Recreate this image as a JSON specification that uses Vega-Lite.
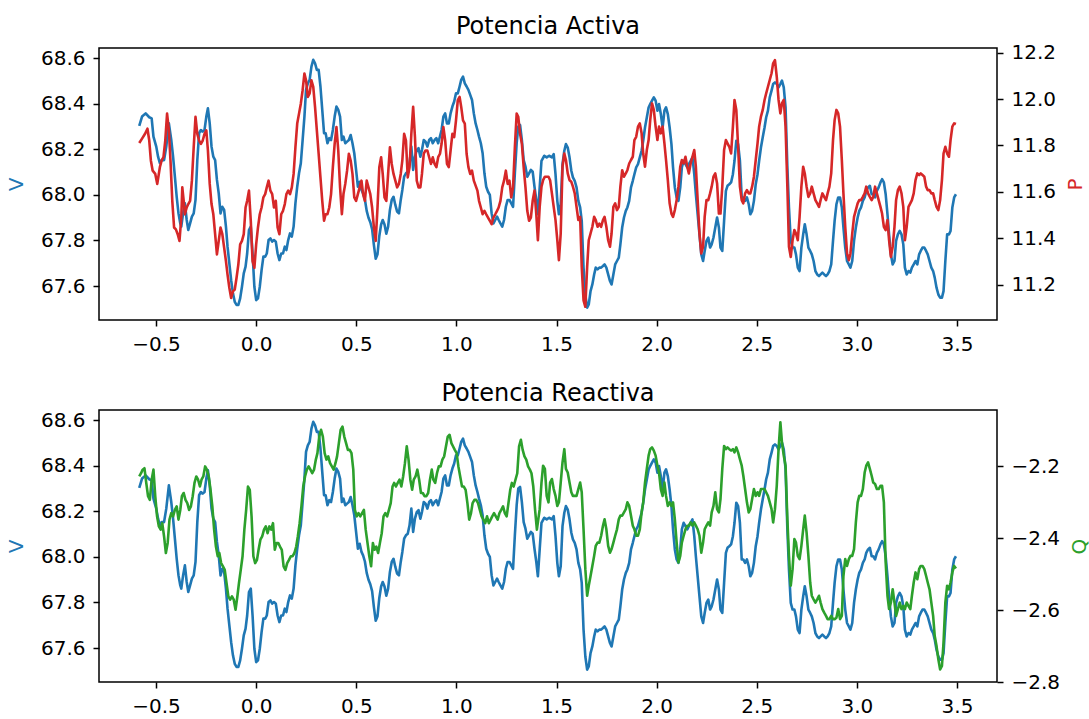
{
"$schema": "https://vega.github.io/schema/vega-lite/v6.json",
"padding": {"left": 5, "top": 13, "right": 0, "bottom": 0},
"background": "white",
"config": {
  "view": {"stroke": "black", "strokeWidth": 1.5},
  "axis": {"grid": false, "domain": false, "tickColor": "black", "tickWidth": 1.5, "tickSize": 6, "labelFont": "DejaVu Sans", "labelFontSize": 20, "labelColor": "black", "labelPadding": 8, "titleFont": "DejaVu Sans", "titleFontSize": 20, "titleFontWeight": "normal"},
  "title": {"font": "DejaVu Sans", "fontSize": 24, "fontWeight": "normal", "color": "black", "offset": 4}
},
"datasets": {
"v": [
{"x":-0.584,"v":68.303},{"x":-0.570,"v":68.344},{"x":-0.552,"v":68.358},{"x":-0.534,"v":68.341},{"x":-0.522,"v":68.336},{"x":-0.513,"v":68.256},{"x":-0.499,"v":68.212},{"x":-0.490,"v":68.168},{"x":-0.481,"v":68.139},{"x":-0.472,"v":68.153},{"x":-0.460,"v":68.153},{"x":-0.449,"v":68.212},{"x":-0.436,"v":68.314},{"x":-0.424,"v":68.241},{"x":-0.415,"v":68.168},{"x":-0.406,"v":68.080},{"x":-0.397,"v":67.992},{"x":-0.388,"v":67.919},{"x":-0.379,"v":67.875},{"x":-0.374,"v":67.861},{"x":-0.365,"v":67.919},{"x":-0.356,"v":67.963},{"x":-0.347,"v":67.890},{"x":-0.339,"v":67.846},{"x":-0.330,"v":67.875},{"x":-0.321,"v":67.905},{"x":-0.312,"v":67.919},{"x":-0.303,"v":67.978},{"x":-0.294,"v":68.153},{"x":-0.285,"v":68.271},{"x":-0.276,"v":68.285},{"x":-0.267,"v":68.278},{"x":-0.258,"v":68.285},{"x":-0.249,"v":68.344},{"x":-0.241,"v":68.380},{"x":-0.232,"v":68.314},{"x":-0.223,"v":68.212},{"x":-0.214,"v":68.168},{"x":-0.205,"v":68.153},{"x":-0.196,"v":68.066},{"x":-0.187,"v":68.007},{"x":-0.178,"v":67.919},{"x":-0.169,"v":67.948},{"x":-0.160,"v":67.934},{"x":-0.151,"v":67.861},{"x":-0.143,"v":67.773},{"x":-0.134,"v":67.700},{"x":-0.125,"v":67.626},{"x":-0.116,"v":67.568},{"x":-0.107,"v":67.531},{"x":-0.098,"v":67.517},{"x":-0.089,"v":67.517},{"x":-0.080,"v":67.546},{"x":-0.071,"v":67.597},{"x":-0.062,"v":67.656},{"x":-0.053,"v":67.685},{"x":-0.045,"v":67.743},{"x":-0.036,"v":67.846},{"x":-0.027,"v":67.861},{"x":-0.018,"v":67.743},{"x":-0.009,"v":67.597},{"x":0.000,"v":67.538},{"x":0.009,"v":67.546},{"x":0.018,"v":67.597},{"x":0.027,"v":67.670},{"x":0.036,"v":67.729},{"x":0.045,"v":67.729},{"x":0.053,"v":67.743},{"x":0.062,"v":67.802},{"x":0.071,"v":67.809},{"x":0.080,"v":67.795},{"x":0.089,"v":67.802},{"x":0.098,"v":67.795},{"x":0.107,"v":67.743},{"x":0.116,"v":67.714},{"x":0.125,"v":67.743},{"x":0.134,"v":67.743},{"x":0.143,"v":67.773},{"x":0.151,"v":67.758},{"x":0.160,"v":67.802},{"x":0.169,"v":67.831},{"x":0.178,"v":67.817},{"x":0.187,"v":67.861},{"x":0.196,"v":67.963},{"x":0.205,"v":68.036},{"x":0.214,"v":68.095},{"x":0.223,"v":68.139},{"x":0.232,"v":68.241},{"x":0.241,"v":68.344},{"x":0.249,"v":68.461},{"x":0.258,"v":68.490},{"x":0.267,"v":68.505},{"x":0.276,"v":68.563},{"x":0.285,"v":68.593},{"x":0.294,"v":68.578},{"x":0.303,"v":68.549},{"x":0.312,"v":68.549},{"x":0.321,"v":68.476},{"x":0.330,"v":68.373},{"x":0.339,"v":68.271},{"x":0.347,"v":68.271},{"x":0.356,"v":68.227},{"x":0.365,"v":68.249},{"x":0.374,"v":68.241},{"x":0.383,"v":68.285},{"x":0.392,"v":68.344},{"x":0.401,"v":68.388},{"x":0.410,"v":68.373},{"x":0.419,"v":68.344},{"x":0.428,"v":68.241},{"x":0.436,"v":68.256},{"x":0.445,"v":68.227},{"x":0.454,"v":68.234},{"x":0.463,"v":68.241},{"x":0.472,"v":68.263},{"x":0.481,"v":68.227},{"x":0.490,"v":68.183},{"x":0.499,"v":68.110},{"x":0.508,"v":68.036},{"x":0.517,"v":68.058},{"x":0.526,"v":68.022},{"x":0.534,"v":68.007},{"x":0.543,"v":67.980},{"x":0.552,"v":67.930},{"x":0.561,"v":67.900},{"x":0.570,"v":67.880},{"x":0.579,"v":67.850},{"x":0.588,"v":67.780},{"x":0.597,"v":67.720},{"x":0.606,"v":67.740},{"x":0.615,"v":67.820},{"x":0.624,"v":67.870},{"x":0.632,"v":67.890},{"x":0.641,"v":67.870},{"x":0.650,"v":67.830},{"x":0.659,"v":67.861},{"x":0.668,"v":67.934},{"x":0.677,"v":67.978},{"x":0.686,"v":67.992},{"x":0.695,"v":67.956},{"x":0.704,"v":67.927},{"x":0.713,"v":67.919},{"x":0.722,"v":67.978},{"x":0.730,"v":68.022},{"x":0.739,"v":68.080},{"x":0.748,"v":68.095},{"x":0.757,"v":68.102},{"x":0.766,"v":68.139},{"x":0.775,"v":68.212},{"x":0.784,"v":68.110},{"x":0.793,"v":68.168},{"x":0.802,"v":68.197},{"x":0.811,"v":68.205},{"x":0.820,"v":68.168},{"x":0.828,"v":68.197},{"x":0.837,"v":68.241},{"x":0.846,"v":68.234},{"x":0.855,"v":68.212},{"x":0.864,"v":68.241},{"x":0.873,"v":68.249},{"x":0.882,"v":68.227},{"x":0.891,"v":68.241},{"x":0.900,"v":68.249},{"x":0.909,"v":68.227},{"x":0.926,"v":68.285},{"x":0.935,"v":68.344},{"x":0.944,"v":68.358},{"x":0.953,"v":68.314},{"x":0.962,"v":68.314},{"x":0.971,"v":68.358},{"x":0.980,"v":68.388},{"x":0.989,"v":68.410},{"x":0.998,"v":68.446},{"x":1.007,"v":68.446},{"x":1.016,"v":68.476},{"x":1.024,"v":68.505},{"x":1.033,"v":68.519},{"x":1.042,"v":68.490},{"x":1.051,"v":68.476},{"x":1.060,"v":68.461},{"x":1.069,"v":68.439},{"x":1.078,"v":68.417},{"x":1.087,"v":68.358},{"x":1.096,"v":68.314},{"x":1.105,"v":68.285},{"x":1.113,"v":68.256},{"x":1.122,"v":68.227},{"x":1.131,"v":68.183},{"x":1.140,"v":68.095},{"x":1.149,"v":68.036},{"x":1.158,"v":68.014},{"x":1.167,"v":68.000},{"x":1.176,"v":67.919},{"x":1.185,"v":67.875},{"x":1.194,"v":67.890},{"x":1.203,"v":67.905},{"x":1.211,"v":67.890},{"x":1.220,"v":67.875},{"x":1.229,"v":67.861},{"x":1.238,"v":67.890},{"x":1.247,"v":67.948},{"x":1.256,"v":67.978},{"x":1.265,"v":67.978},{"x":1.274,"v":67.963},{"x":1.283,"v":67.948},{"x":1.292,"v":68.095},{"x":1.301,"v":68.227},{"x":1.309,"v":68.300},{"x":1.318,"v":68.307},{"x":1.327,"v":68.241},{"x":1.336,"v":68.153},{"x":1.345,"v":68.124},{"x":1.354,"v":68.080},{"x":1.363,"v":68.095},{"x":1.372,"v":68.110},{"x":1.381,"v":68.102},{"x":1.390,"v":68.036},{"x":1.399,"v":67.978},
{"x":1.407,"v":67.915},{"x":1.416,"v":68.033},{"x":1.425,"v":68.150},{"x":1.439,"v":68.172},{"x":1.451,"v":68.165},{"x":1.463,"v":68.172},{"x":1.477,"v":68.165},{"x":1.486,"v":68.179},{"x":1.495,"v":68.091},{"x":1.504,"v":67.974},{"x":1.512,"v":67.915},{"x":1.521,"v":67.959},{"x":1.530,"v":68.135},{"x":1.539,"v":68.194},{"x":1.547,"v":68.223},{"x":1.556,"v":68.208},{"x":1.565,"v":68.165},{"x":1.574,"v":68.106},{"x":1.582,"v":68.077},{"x":1.591,"v":68.062},{"x":1.600,"v":68.033},{"x":1.609,"v":67.974},{"x":1.618,"v":67.945},{"x":1.626,"v":67.886},{"x":1.635,"v":67.681},{"x":1.644,"v":67.563},{"x":1.653,"v":67.505},{"x":1.661,"v":67.519},{"x":1.670,"v":67.578},{"x":1.679,"v":67.607},{"x":1.688,"v":67.651},{"x":1.696,"v":67.681},{"x":1.705,"v":67.673},{"x":1.714,"v":67.681},{"x":1.723,"v":67.681},{"x":1.732,"v":67.688},{"x":1.740,"v":67.695},{"x":1.749,"v":67.681},{"x":1.758,"v":67.651},{"x":1.767,"v":67.622},{"x":1.775,"v":67.607},{"x":1.784,"v":67.651},{"x":1.793,"v":67.695},{"x":1.802,"v":67.710},{"x":1.811,"v":67.725},{"x":1.819,"v":67.783},{"x":1.828,"v":67.857},{"x":1.837,"v":67.901},{"x":1.846,"v":67.930},{"x":1.854,"v":67.945},{"x":1.863,"v":67.974},{"x":1.872,"v":68.033},{"x":1.881,"v":68.062},{"x":1.889,"v":68.091},{"x":1.898,"v":68.121},{"x":1.907,"v":68.135},{"x":1.916,"v":68.165},{"x":1.925,"v":68.194},{"x":1.933,"v":68.238},{"x":1.942,"v":68.296},{"x":1.951,"v":68.340},{"x":1.960,"v":68.384},{"x":1.968,"v":68.399},{"x":1.977,"v":68.414},{"x":1.986,"v":68.428},{"x":1.995,"v":68.414},{"x":2.004,"v":68.370},{"x":2.012,"v":68.399},{"x":2.021,"v":68.355},{"x":2.030,"v":68.296},{"x":2.039,"v":68.370},{"x":2.047,"v":68.384},{"x":2.056,"v":68.355},{"x":2.065,"v":68.296},{"x":2.074,"v":68.223},{"x":2.082,"v":68.121},{"x":2.091,"v":68.033},{"x":2.100,"v":67.989},{"x":2.109,"v":67.974},{"x":2.118,"v":68.033},{"x":2.126,"v":68.121},{"x":2.135,"v":68.150},{"x":2.144,"v":68.135},{"x":2.153,"v":68.121},{"x":2.161,"v":68.135},{"x":2.170,"v":68.150},{"x":2.179,"v":68.165},{"x":2.188,"v":68.091},{"x":2.196,"v":68.003},{"x":2.205,"v":67.915},{"x":2.214,"v":67.827},{"x":2.223,"v":67.739},{"x":2.232,"v":67.710},{"x":2.240,"v":67.754},{"x":2.249,"v":67.798},{"x":2.258,"v":67.813},{"x":2.267,"v":67.769},{"x":2.275,"v":67.783},{"x":2.284,"v":67.813},{"x":2.293,"v":67.857},{"x":2.302,"v":67.901},{"x":2.311,"v":67.857},{"x":2.319,"v":67.769},{"x":2.328,"v":67.754},{"x":2.337,"v":67.886},{"x":2.346,"v":68.018},{"x":2.354,"v":68.040},{"x":2.363,"v":68.047},{"x":2.372,"v":68.055},{"x":2.381,"v":68.091},{"x":2.389,"v":68.150},{"x":2.398,"v":68.238},{"x":2.407,"v":68.223},{"x":2.416,"v":68.150},{"x":2.425,"v":67.989},{"x":2.433,"v":67.989},{"x":2.442,"v":67.974},{"x":2.451,"v":67.989},{"x":2.460,"v":67.959},{"x":2.468,"v":67.915},{"x":2.477,"v":67.930},{"x":2.486,"v":67.974},{"x":2.495,"v":68.047},{"x":2.504,"v":68.091},{"x":2.512,"v":68.150},{"x":2.521,"v":68.208},{"x":2.530,"v":68.253},{"x":2.539,"v":68.296},{"x":2.547,"v":68.340},{"x":2.556,"v":68.370},{"x":2.565,"v":68.428},{"x":2.574,"v":68.458},{"x":2.582,"v":68.487},{"x":2.591,"v":68.494},{"x":2.600,"v":68.487},{"x":2.609,"v":68.472},{"x":2.618,"v":68.487},{"x":2.626,"v":68.502},{"x":2.635,"v":68.472},{"x":2.644,"v":68.384},{"x":2.653,"v":68.121},{"x":2.661,"v":67.945},{"x":2.670,"v":67.798},{"x":2.679,"v":67.769},{"x":2.688,"v":67.769},{"x":2.696,"v":67.739},{"x":2.705,"v":67.681},{"x":2.714,"v":67.666},{"x":2.723,"v":67.769},{"x":2.732,"v":67.827},{"x":2.740,"v":67.871},{"x":2.749,"v":67.827},{"x":2.758,"v":67.769},{"x":2.767,"v":67.754},{"x":2.775,"v":67.739},{"x":2.784,"v":67.710},{"x":2.793,"v":67.666},{"x":2.802,"v":67.651},{"x":2.811,"v":67.644},{"x":2.819,"v":67.651},{"x":2.828,"v":67.659},{"x":2.837,"v":67.651},{"x":2.846,"v":67.644},{"x":2.854,"v":67.651},{"x":2.863,"v":67.666},{"x":2.872,"v":67.695},{"x":2.881,"v":67.798},{"x":2.889,"v":67.886},{"x":2.898,"v":67.959},{"x":2.907,"v":67.989},{"x":2.916,"v":67.989},{"x":2.925,"v":67.945},{"x":2.933,"v":67.857},{"x":2.942,"v":67.769},{"x":2.951,"v":67.710},{"x":2.960,"v":67.695},{"x":2.968,"v":67.681},{"x":2.977,"v":67.710},{"x":2.986,"v":67.798},{"x":2.995,"v":67.857},{"x":3.004,"v":67.901},{"x":3.012,"v":67.930},{"x":3.021,"v":67.945},{"x":3.030,"v":67.974},{"x":3.039,"v":67.989},{"x":3.047,"v":68.018},{"x":3.056,"v":68.033},{"x":3.065,"v":68.040},{"x":3.074,"v":68.003},{"x":3.082,"v":68.003},{"x":3.091,"v":67.989},{"x":3.100,"v":68.018},{"x":3.109,"v":68.033},{"x":3.118,"v":68.055},{"x":3.126,"v":68.069},{"x":3.135,"v":68.055},{"x":3.144,"v":68.003},{"x":3.153,"v":67.915},{"x":3.161,"v":67.827},{"x":3.170,"v":67.739},{"x":3.179,"v":67.695},{"x":3.188,"v":67.710},{"x":3.196,"v":67.798},{"x":3.205,"v":67.827},{"x":3.214,"v":67.842},{"x":3.223,"v":67.827},{"x":3.232,"v":67.783},{"x":3.240,"v":67.681},{"x":3.249,"v":67.651},{"x":3.258,"v":67.666},{"x":3.267,"v":67.659},{"x":3.275,"v":67.681},{"x":3.284,"v":67.695},{"x":3.293,"v":67.710},{"x":3.302,"v":67.695},{"x":3.311,"v":67.739},{"x":3.319,"v":67.754},{"x":3.328,"v":67.769},{"x":3.337,"v":67.769},{"x":3.346,"v":67.754},{"x":3.354,"v":67.739},{"x":3.363,"v":67.710},{"x":3.372,"v":67.681},{"x":3.381,"v":67.666},{"x":3.389,"v":67.637},{"x":3.398,"v":67.593},{"x":3.407,"v":67.563},{"x":3.416,"v":67.549},{"x":3.425,"v":67.549},{"x":3.433,"v":67.578},{"x":3.442,"v":67.710},{"x":3.451,"v":67.827},{"x":3.460,"v":67.827},{"x":3.468,"v":67.842},{"x":3.477,"v":67.945},{"x":3.486,"v":67.989},{"x":3.495,"v":68.003}
],
"p": [
{"x":-0.584,"p":11.810},{"x":-0.570,"p":11.829},{"x":-0.555,"p":11.850},{"x":-0.543,"p":11.872},{"x":-0.534,"p":11.821},{"x":-0.526,"p":11.735},{"x":-0.517,"p":11.691},{"x":-0.504,"p":11.677},{"x":-0.494,"p":11.634},{"x":-0.481,"p":11.706},{"x":-0.472,"p":11.735},{"x":-0.463,"p":11.749},{"x":-0.454,"p":11.821},{"x":-0.445,"p":11.937},{"x":-0.436,"p":11.865},{"x":-0.428,"p":11.735},{"x":-0.419,"p":11.561},{"x":-0.410,"p":11.446},{"x":-0.401,"p":11.438},{"x":-0.392,"p":11.417},{"x":-0.383,"p":11.388},{"x":-0.374,"p":11.489},{"x":-0.369,"p":11.619},{"x":-0.362,"p":11.561},{"x":-0.356,"p":11.503},{"x":-0.347,"p":11.532},{"x":-0.339,"p":11.547},{"x":-0.330,"p":11.561},{"x":-0.321,"p":11.648},{"x":-0.312,"p":11.792},{"x":-0.303,"p":11.923},{"x":-0.294,"p":11.850},{"x":-0.285,"p":11.821},{"x":-0.276,"p":11.807},{"x":-0.267,"p":11.821},{"x":-0.258,"p":11.850},{"x":-0.249,"p":11.865},{"x":-0.241,"p":11.778},{"x":-0.232,"p":11.634},{"x":-0.223,"p":11.547},{"x":-0.214,"p":11.503},{"x":-0.205,"p":11.417},{"x":-0.196,"p":11.330},{"x":-0.187,"p":11.388},{"x":-0.178,"p":11.446},{"x":-0.169,"p":11.417},{"x":-0.160,"p":11.359},{"x":-0.151,"p":11.301},{"x":-0.143,"p":11.243},{"x":-0.134,"p":11.186},{"x":-0.125,"p":11.142},{"x":-0.116,"p":11.171},{"x":-0.107,"p":11.178},{"x":-0.098,"p":11.229},{"x":-0.089,"p":11.287},{"x":-0.080,"p":11.373},{"x":-0.071,"p":11.388},{"x":-0.062,"p":11.417},{"x":-0.053,"p":11.532},{"x":-0.045,"p":11.561},{"x":-0.036,"p":11.605},{"x":-0.027,"p":11.475},{"x":-0.018,"p":11.301},{"x":-0.009,"p":11.272},{"x":0.000,"p":11.373},{"x":0.009,"p":11.446},{"x":0.018,"p":11.503},{"x":0.027,"p":11.532},{"x":0.036,"p":11.576},{"x":0.045,"p":11.590},{"x":0.053,"p":11.619},{"x":0.062,"p":11.648},{"x":0.071,"p":11.605},{"x":0.080,"p":11.590},{"x":0.089,"p":11.532},{"x":0.098,"p":11.561},{"x":0.107,"p":11.446},{"x":0.116,"p":11.417},{"x":0.125,"p":11.503},{"x":0.134,"p":11.518},{"x":0.143,"p":11.547},{"x":0.151,"p":11.590},{"x":0.160,"p":11.605},{"x":0.169,"p":11.590},{"x":0.178,"p":11.619},{"x":0.187,"p":11.677},{"x":0.196,"p":11.792},{"x":0.205,"p":11.894},{"x":0.214,"p":11.937},{"x":0.223,"p":11.980},{"x":0.232,"p":12.038},{"x":0.241,"p":12.110},{"x":0.249,"p":12.081},{"x":0.258,"p":12.009},{"x":0.267,"p":12.024},{"x":0.276,"p":12.081},{"x":0.285,"p":12.053},{"x":0.294,"p":11.966},{"x":0.303,"p":11.865},{"x":0.312,"p":11.764},{"x":0.321,"p":11.662},{"x":0.330,"p":11.561},{"x":0.339,"p":11.475},{"x":0.347,"p":11.503},{"x":0.356,"p":11.503},{"x":0.365,"p":11.532},{"x":0.374,"p":11.590},{"x":0.383,"p":11.706},{"x":0.392,"p":11.807},{"x":0.401,"p":11.879},{"x":0.410,"p":11.778},{"x":0.419,"p":11.619},{"x":0.428,"p":11.503},{"x":0.436,"p":11.590},{"x":0.445,"p":11.634},{"x":0.454,"p":11.691},{"x":0.463,"p":11.764},{"x":0.472,"p":11.735},{"x":0.481,"p":11.677},{"x":0.490,"p":11.576},{"x":0.499,"p":11.561},{"x":0.508,"p":11.590},{"x":0.517,"p":11.619},{"x":0.526,"p":11.648},{"x":0.534,"p":11.590},{"x":0.543,"p":11.561},{"x":0.552,"p":11.648},{"x":0.561,"p":11.619},{"x":0.570,"p":11.590},{"x":0.579,"p":11.532},{"x":0.588,"p":11.446},{"x":0.597,"p":11.388},{"x":0.606,"p":11.532},{"x":0.615,"p":11.706},{"x":0.624,"p":11.749},{"x":0.632,"p":11.677},{"x":0.641,"p":11.576},{"x":0.650,"p":11.561},{"x":0.659,"p":11.677},{"x":0.668,"p":11.792},{"x":0.677,"p":11.720},{"x":0.686,"p":11.677},{"x":0.695,"p":11.648},{"x":0.704,"p":11.619},{"x":0.713,"p":11.634},{"x":0.722,"p":11.677},{"x":0.730,"p":11.735},{"x":0.739,"p":11.850},{"x":0.748,"p":11.821},{"x":0.757,"p":11.662},{"x":0.766,"p":11.706},{"x":0.775,"p":11.850},{"x":0.784,"p":11.966},{"x":0.793,"p":11.836},{"x":0.802,"p":11.648},{"x":0.811,"p":11.619},{"x":0.820,"p":11.619},{"x":0.828,"p":11.677},{"x":0.837,"p":11.764},{"x":0.846,"p":11.778},{"x":0.855,"p":11.778},{"x":0.864,"p":11.749},{"x":0.873,"p":11.720},{"x":0.882,"p":11.749},{"x":0.891,"p":11.720},{"x":0.900,"p":11.706},{"x":0.909,"p":11.749},{"x":0.918,"p":11.764},{"x":0.926,"p":11.807},{"x":0.935,"p":11.879},{"x":0.944,"p":11.821},{"x":0.953,"p":11.720},{"x":0.962,"p":11.706},{"x":0.971,"p":11.778},{"x":0.980,"p":11.850},{"x":0.989,"p":11.836},{"x":0.998,"p":11.908},{"x":1.007,"p":11.995},{"x":1.016,"p":12.009},{"x":1.024,"p":11.966},{"x":1.033,"p":11.908},{"x":1.042,"p":11.894},{"x":1.051,"p":11.764},{"x":1.060,"p":11.706},{"x":1.069,"p":11.677},{"x":1.078,"p":11.691},{"x":1.087,"p":11.648},{"x":1.105,"p":11.605},{"x":1.113,"p":11.561},{"x":1.122,"p":11.532},{"x":1.131,"p":11.503},{"x":1.140,"p":11.518},{"x":1.149,"p":11.503},{"x":1.158,"p":11.489},{"x":1.167,"p":11.475},{"x":1.176,"p":11.460},{"x":1.185,"p":11.489},{"x":1.194,"p":11.503},{"x":1.203,"p":11.518},{"x":1.211,"p":11.532},{"x":1.220,"p":11.561},{"x":1.229,"p":11.619},{"x":1.238,"p":11.648},{"x":1.247,"p":11.691},{"x":1.256,"p":11.634},{"x":1.265,"p":11.648},{"x":1.274,"p":11.576},{"x":1.283,"p":11.619},{"x":1.292,"p":11.792},{"x":1.301,"p":11.937},{"x":1.309,"p":11.923},{"x":1.318,"p":11.850},{"x":1.327,"p":11.807},{"x":1.336,"p":11.706},{"x":1.345,"p":11.619},{"x":1.354,"p":11.518},{"x":1.363,"p":11.475},{"x":1.372,"p":11.489},{"x":1.381,"p":11.561},{"x":1.390,"p":11.605},{"x":1.399,"p":11.503},
{"x":1.407,"p":11.391},{"x":1.416,"p":11.535},{"x":1.425,"p":11.622},{"x":1.433,"p":11.650},{"x":1.442,"p":11.665},{"x":1.451,"p":11.665},{"x":1.460,"p":11.665},{"x":1.468,"p":11.650},{"x":1.477,"p":11.593},{"x":1.486,"p":11.535},{"x":1.495,"p":11.478},{"x":1.504,"p":11.391},{"x":1.512,"p":11.305},{"x":1.521,"p":11.420},{"x":1.530,"p":11.708},{"x":1.539,"p":11.765},{"x":1.547,"p":11.737},{"x":1.556,"p":11.679},{"x":1.565,"p":11.650},{"x":1.574,"p":11.643},{"x":1.582,"p":11.622},{"x":1.591,"p":11.593},{"x":1.600,"p":11.535},{"x":1.609,"p":11.478},{"x":1.618,"p":11.492},{"x":1.626,"p":11.276},{"x":1.635,"p":11.132},{"x":1.644,"p":11.104},{"x":1.653,"p":11.276},{"x":1.661,"p":11.391},{"x":1.670,"p":11.420},{"x":1.679,"p":11.449},{"x":1.688,"p":11.492},{"x":1.696,"p":11.478},{"x":1.705,"p":11.449},{"x":1.714,"p":11.463},{"x":1.723,"p":11.449},{"x":1.732,"p":11.478},{"x":1.740,"p":11.492},{"x":1.749,"p":11.449},{"x":1.758,"p":11.391},{"x":1.767,"p":11.363},{"x":1.775,"p":11.420},{"x":1.784,"p":11.535},{"x":1.793,"p":11.550},{"x":1.802,"p":11.521},{"x":1.811,"p":11.535},{"x":1.819,"p":11.622},{"x":1.828,"p":11.693},{"x":1.837,"p":11.665},{"x":1.846,"p":11.679},{"x":1.854,"p":11.693},{"x":1.863,"p":11.722},{"x":1.872,"p":11.737},{"x":1.881,"p":11.751},{"x":1.889,"p":11.823},{"x":1.898,"p":11.837},{"x":1.907,"p":11.881},{"x":1.916,"p":11.895},{"x":1.925,"p":11.852},{"x":1.933,"p":11.765},{"x":1.942,"p":11.708},{"x":1.951,"p":11.780},{"x":1.960,"p":11.823},{"x":1.968,"p":11.909},{"x":1.977,"p":11.981},{"x":1.986,"p":11.953},{"x":1.995,"p":11.881},{"x":2.004,"p":11.823},{"x":2.012,"p":11.881},{"x":2.021,"p":11.852},{"x":2.030,"p":11.881},{"x":2.039,"p":11.809},{"x":2.047,"p":11.737},{"x":2.056,"p":11.650},{"x":2.065,"p":11.550},{"x":2.074,"p":11.506},{"x":2.082,"p":11.492},{"x":2.091,"p":11.521},{"x":2.100,"p":11.564},{"x":2.109,"p":11.622},{"x":2.118,"p":11.708},{"x":2.126,"p":11.737},{"x":2.135,"p":11.722},{"x":2.144,"p":11.751},{"x":2.153,"p":11.708},{"x":2.161,"p":11.679},{"x":2.170,"p":11.722},{"x":2.179,"p":11.751},{"x":2.188,"p":11.780},{"x":2.196,"p":11.708},{"x":2.205,"p":11.564},{"x":2.214,"p":11.420},{"x":2.223,"p":11.334},{"x":2.232,"p":11.363},{"x":2.240,"p":11.492},{"x":2.249,"p":11.564},{"x":2.258,"p":11.564},{"x":2.267,"p":11.593},{"x":2.275,"p":11.622},{"x":2.284,"p":11.665},{"x":2.293,"p":11.679},{"x":2.302,"p":11.636},{"x":2.311,"p":11.506},{"x":2.319,"p":11.506},{"x":2.328,"p":11.622},{"x":2.337,"p":11.780},{"x":2.346,"p":11.823},{"x":2.354,"p":11.809},{"x":2.363,"p":11.794},{"x":2.372,"p":11.765},{"x":2.381,"p":11.881},{"x":2.389,"p":11.996},{"x":2.398,"p":11.953},{"x":2.407,"p":11.794},{"x":2.416,"p":11.622},{"x":2.425,"p":11.564},{"x":2.433,"p":11.550},{"x":2.442,"p":11.593},{"x":2.451,"p":11.607},{"x":2.460,"p":11.593},{"x":2.468,"p":11.593},{"x":2.477,"p":11.622},{"x":2.486,"p":11.665},{"x":2.495,"p":11.737},{"x":2.504,"p":11.809},{"x":2.512,"p":11.881},{"x":2.521,"p":11.924},{"x":2.530,"p":11.953},{"x":2.539,"p":11.996},{"x":2.547,"p":12.024},{"x":2.556,"p":12.053},{"x":2.565,"p":12.082},{"x":2.574,"p":12.111},{"x":2.582,"p":12.154},{"x":2.591,"p":12.168},{"x":2.600,"p":12.096},{"x":2.609,"p":11.996},{"x":2.618,"p":11.938},{"x":2.626,"p":11.981},{"x":2.635,"p":11.996},{"x":2.644,"p":11.881},{"x":2.653,"p":11.622},{"x":2.661,"p":11.363},{"x":2.670,"p":11.319},{"x":2.679,"p":11.391},{"x":2.688,"p":11.435},{"x":2.696,"p":11.420},{"x":2.705,"p":11.391},{"x":2.714,"p":11.492},{"x":2.723,"p":11.622},{"x":2.732,"p":11.708},{"x":2.740,"p":11.679},{"x":2.749,"p":11.622},{"x":2.758,"p":11.578},{"x":2.767,"p":11.593},{"x":2.775,"p":11.622},{"x":2.784,"p":11.593},{"x":2.793,"p":11.564},{"x":2.802,"p":11.550},{"x":2.811,"p":11.535},{"x":2.819,"p":11.564},{"x":2.828,"p":11.593},{"x":2.837,"p":11.578},{"x":2.846,"p":11.564},{"x":2.854,"p":11.593},{"x":2.863,"p":11.622},{"x":2.872,"p":11.679},{"x":2.881,"p":11.823},{"x":2.889,"p":11.909},{"x":2.898,"p":11.953},{"x":2.907,"p":11.938},{"x":2.916,"p":11.881},{"x":2.925,"p":11.737},{"x":2.933,"p":11.593},{"x":2.942,"p":11.449},{"x":2.951,"p":11.334},{"x":2.960,"p":11.305},{"x":2.968,"p":11.334},{"x":2.977,"p":11.420},{"x":2.986,"p":11.492},{"x":2.995,"p":11.521},{"x":3.004,"p":11.550},{"x":3.012,"p":11.564},{"x":3.021,"p":11.564},{"x":3.030,"p":11.578},{"x":3.039,"p":11.593},{"x":3.047,"p":11.622},{"x":3.056,"p":11.593},{"x":3.065,"p":11.578},{"x":3.074,"p":11.564},{"x":3.082,"p":11.578},{"x":3.091,"p":11.622},{"x":3.100,"p":11.593},{"x":3.109,"p":11.564},{"x":3.118,"p":11.535},{"x":3.126,"p":11.506},{"x":3.135,"p":11.449},{"x":3.144,"p":11.435},{"x":3.153,"p":11.478},{"x":3.161,"p":11.391},{"x":3.170,"p":11.319},{"x":3.179,"p":11.363},{"x":3.188,"p":11.449},{"x":3.196,"p":11.564},{"x":3.205,"p":11.607},{"x":3.214,"p":11.622},{"x":3.223,"p":11.593},{"x":3.232,"p":11.535},{"x":3.240,"p":11.391},{"x":3.249,"p":11.449},{"x":3.258,"p":11.535},{"x":3.267,"p":11.550},{"x":3.275,"p":11.564},{"x":3.284,"p":11.593},{"x":3.293,"p":11.650},{"x":3.302,"p":11.679},{"x":3.311,"p":11.672},{"x":3.319,"p":11.679},{"x":3.328,"p":11.672},{"x":3.337,"p":11.665},{"x":3.346,"p":11.622},{"x":3.354,"p":11.607},{"x":3.363,"p":11.607},{"x":3.372,"p":11.593},{"x":3.381,"p":11.593},{"x":3.389,"p":11.564},{"x":3.398,"p":11.535},{"x":3.407,"p":11.521},{"x":3.416,"p":11.564},{"x":3.425,"p":11.650},{"x":3.433,"p":11.765},{"x":3.442,"p":11.794},{"x":3.451,"p":11.765},{"x":3.460,"p":11.751},{"x":3.468,"p":11.823},{"x":3.477,"p":11.881},{"x":3.486,"p":11.895},{"x":3.495,"p":11.892}
],
"q": [
{"x":-0.584,"q":-2.228},{"x":-0.575,"q":-2.219},{"x":-0.567,"q":-2.209},{"x":-0.558,"q":-2.205},{"x":-0.549,"q":-2.246},{"x":-0.540,"q":-2.283},{"x":-0.531,"q":-2.293},{"x":-0.522,"q":-2.237},{"x":-0.513,"q":-2.209},{"x":-0.504,"q":-2.283},{"x":-0.495,"q":-2.339},{"x":-0.486,"q":-2.367},{"x":-0.477,"q":-2.376},{"x":-0.469,"q":-2.358},{"x":-0.460,"q":-2.395},{"x":-0.451,"q":-2.441},{"x":-0.442,"q":-2.413},{"x":-0.433,"q":-2.348},{"x":-0.424,"q":-2.330},{"x":-0.415,"q":-2.339},{"x":-0.406,"q":-2.321},{"x":-0.397,"q":-2.311},{"x":-0.388,"q":-2.348},{"x":-0.379,"q":-2.321},{"x":-0.371,"q":-2.283},{"x":-0.362,"q":-2.274},{"x":-0.353,"q":-2.293},{"x":-0.344,"q":-2.302},{"x":-0.335,"q":-2.321},{"x":-0.326,"q":-2.311},{"x":-0.317,"q":-2.283},{"x":-0.308,"q":-2.246},{"x":-0.299,"q":-2.228},{"x":-0.290,"q":-2.237},{"x":-0.281,"q":-2.256},{"x":-0.273,"q":-2.237},{"x":-0.264,"q":-2.228},{"x":-0.255,"q":-2.200},{"x":-0.246,"q":-2.209},{"x":-0.237,"q":-2.228},{"x":-0.228,"q":-2.265},{"x":-0.219,"q":-2.311},{"x":-0.210,"q":-2.376},{"x":-0.201,"q":-2.423},{"x":-0.192,"q":-2.450},{"x":-0.184,"q":-2.441},{"x":-0.175,"q":-2.469},{"x":-0.166,"q":-2.478},{"x":-0.157,"q":-2.488},{"x":-0.148,"q":-2.525},{"x":-0.139,"q":-2.562},{"x":-0.130,"q":-2.571},{"x":-0.121,"q":-2.562},{"x":-0.112,"q":-2.571},{"x":-0.103,"q":-2.599},{"x":-0.094,"q":-2.562},{"x":-0.086,"q":-2.525},{"x":-0.077,"q":-2.488},{"x":-0.068,"q":-2.450},{"x":-0.059,"q":-2.376},{"x":-0.050,"q":-2.321},{"x":-0.041,"q":-2.256},{"x":-0.032,"q":-2.265},{"x":-0.023,"q":-2.339},{"x":-0.014,"q":-2.450},{"x":-0.005,"q":-2.469},{"x":0.004,"q":-2.460},{"x":0.012,"q":-2.432},{"x":0.021,"q":-2.404},{"x":0.030,"q":-2.395},{"x":0.039,"q":-2.376},{"x":0.048,"q":-2.367},{"x":0.057,"q":-2.386},{"x":0.066,"q":-2.367},{"x":0.075,"q":-2.376},{"x":0.084,"q":-2.358},{"x":0.093,"q":-2.432},{"x":0.102,"q":-2.413},{"x":0.110,"q":-2.413},{"x":0.119,"q":-2.423},{"x":0.128,"q":-2.432},{"x":0.137,"q":-2.478},{"x":0.146,"q":-2.488},{"x":0.155,"q":-2.469},{"x":0.164,"q":-2.460},{"x":0.173,"q":-2.450},{"x":0.182,"q":-2.450},{"x":0.191,"q":-2.441},{"x":0.200,"q":-2.423},{"x":0.208,"q":-2.395},{"x":0.217,"q":-2.358},{"x":0.226,"q":-2.311},{"x":0.235,"q":-2.256},{"x":0.244,"q":-2.228},{"x":0.253,"q":-2.209},{"x":0.262,"q":-2.200},{"x":0.271,"q":-2.209},{"x":0.280,"q":-2.219},{"x":0.289,"q":-2.209},{"x":0.298,"q":-2.181},{"x":0.306,"q":-2.163},{"x":0.315,"q":-2.117},{"x":0.324,"q":-2.098},{"x":0.333,"q":-2.117},{"x":0.342,"q":-2.163},{"x":0.351,"q":-2.181},{"x":0.360,"q":-2.172},{"x":0.369,"q":-2.191},{"x":0.378,"q":-2.200},{"x":0.387,"q":-2.209},{"x":0.396,"q":-2.191},{"x":0.404,"q":-2.172},{"x":0.413,"q":-2.135},{"x":0.422,"q":-2.098},{"x":0.431,"q":-2.089},{"x":0.440,"q":-2.117},{"x":0.449,"q":-2.135},{"x":0.458,"q":-2.154},{"x":0.467,"q":-2.154},{"x":0.476,"q":-2.163},{"x":0.485,"q":-2.209},{"x":0.493,"q":-2.321},{"x":0.502,"q":-2.339},{"x":0.511,"q":-2.330},{"x":0.520,"q":-2.339},{"x":0.529,"q":-2.330},{"x":0.538,"q":-2.321},{"x":0.547,"q":-2.376},{"x":0.556,"q":-2.413},{"x":0.565,"q":-2.450},{"x":0.574,"q":-2.478},{"x":0.583,"q":-2.413},{"x":0.591,"q":-2.432},{"x":0.600,"q":-2.423},{"x":0.609,"q":-2.441},{"x":0.618,"q":-2.413},{"x":0.627,"q":-2.386},{"x":0.636,"q":-2.339},{"x":0.645,"q":-2.330},{"x":0.654,"q":-2.339},{"x":0.663,"q":-2.321},{"x":0.672,"q":-2.302},{"x":0.681,"q":-2.256},{"x":0.689,"q":-2.246},{"x":0.698,"q":-2.256},{"x":0.707,"q":-2.246},{"x":0.716,"q":-2.237},{"x":0.725,"q":-2.256},{"x":0.734,"q":-2.228},{"x":0.743,"q":-2.191},{"x":0.752,"q":-2.144},{"x":0.761,"q":-2.181},{"x":0.770,"q":-2.237},{"x":0.779,"q":-2.265},{"x":0.787,"q":-2.237},{"x":0.796,"q":-2.228},{"x":0.805,"q":-2.209},{"x":0.814,"q":-2.237},{"x":0.823,"q":-2.274},{"x":0.832,"q":-2.274},{"x":0.841,"q":-2.283},{"x":0.850,"q":-2.283},{"x":0.859,"q":-2.274},{"x":0.868,"q":-2.237},{"x":0.877,"q":-2.209},{"x":0.885,"q":-2.237},{"x":0.894,"q":-2.246},{"x":0.903,"q":-2.219},{"x":0.912,"q":-2.200},{"x":0.921,"q":-2.200},{"x":0.930,"q":-2.181},{"x":0.939,"q":-2.172},{"x":0.948,"q":-2.144},{"x":0.957,"q":-2.117},{"x":0.966,"q":-2.112},{"x":0.975,"q":-2.135},{"x":0.983,"q":-2.144},{"x":0.992,"q":-2.154},{"x":1.001,"q":-2.163},{"x":1.010,"q":-2.200},{"x":1.019,"q":-2.228},{"x":1.028,"q":-2.256},{"x":1.037,"q":-2.256},{"x":1.046,"q":-2.265},{"x":1.055,"q":-2.302},{"x":1.064,"q":-2.348},{"x":1.073,"q":-2.330},{"x":1.081,"q":-2.302},{"x":1.090,"q":-2.293},{"x":1.099,"q":-2.293},{"x":1.108,"q":-2.302},{"x":1.117,"q":-2.321},{"x":1.126,"q":-2.339},{"x":1.135,"q":-2.348},{"x":1.144,"q":-2.358},{"x":1.153,"q":-2.339},{"x":1.162,"q":-2.358},{"x":1.171,"q":-2.348},{"x":1.179,"q":-2.339},{"x":1.188,"q":-2.330},{"x":1.197,"q":-2.339},{"x":1.206,"q":-2.348},{"x":1.215,"q":-2.330},{"x":1.224,"q":-2.321},{"x":1.233,"q":-2.311},{"x":1.242,"q":-2.330},{"x":1.251,"q":-2.339},{"x":1.260,"q":-2.302},{"x":1.269,"q":-2.265},{"x":1.277,"q":-2.246},{"x":1.286,"q":-2.256},{"x":1.295,"q":-2.237},{"x":1.304,"q":-2.219},{"x":1.313,"q":-2.144},{"x":1.322,"q":-2.126},{"x":1.331,"q":-2.154},{"x":1.340,"q":-2.172},{"x":1.349,"q":-2.181},{"x":1.358,"q":-2.200},{"x":1.367,"q":-2.209},{"x":1.375,"q":-2.219},{"x":1.384,"q":-2.256},{"x":1.393,"q":-2.321},{"x":1.402,"q":-2.376},
{"x":1.416,"q":-2.319},{"x":1.425,"q":-2.245},{"x":1.433,"q":-2.198},{"x":1.442,"q":-2.207},{"x":1.451,"q":-2.282},{"x":1.460,"q":-2.300},{"x":1.468,"q":-2.245},{"x":1.477,"q":-2.235},{"x":1.486,"q":-2.263},{"x":1.495,"q":-2.282},{"x":1.504,"q":-2.310},{"x":1.512,"q":-2.300},{"x":1.521,"q":-2.245},{"x":1.530,"q":-2.189},{"x":1.539,"q":-2.152},{"x":1.547,"q":-2.207},{"x":1.556,"q":-2.217},{"x":1.565,"q":-2.245},{"x":1.574,"q":-2.272},{"x":1.582,"q":-2.282},{"x":1.591,"q":-2.282},{"x":1.600,"q":-2.282},{"x":1.609,"q":-2.263},{"x":1.618,"q":-2.245},{"x":1.626,"q":-2.272},{"x":1.635,"q":-2.375},{"x":1.644,"q":-2.486},{"x":1.653,"q":-2.560},{"x":1.661,"q":-2.532},{"x":1.670,"q":-2.505},{"x":1.679,"q":-2.477},{"x":1.688,"q":-2.449},{"x":1.696,"q":-2.421},{"x":1.705,"q":-2.412},{"x":1.714,"q":-2.412},{"x":1.723,"q":-2.393},{"x":1.732,"q":-2.365},{"x":1.740,"q":-2.347},{"x":1.749,"q":-2.375},{"x":1.758,"q":-2.421},{"x":1.767,"q":-2.440},{"x":1.775,"q":-2.430},{"x":1.784,"q":-2.412},{"x":1.793,"q":-2.393},{"x":1.802,"q":-2.375},{"x":1.811,"q":-2.347},{"x":1.819,"q":-2.337},{"x":1.828,"q":-2.337},{"x":1.837,"q":-2.328},{"x":1.846,"q":-2.319},{"x":1.854,"q":-2.300},{"x":1.863,"q":-2.310},{"x":1.872,"q":-2.337},{"x":1.881,"q":-2.365},{"x":1.889,"q":-2.375},{"x":1.898,"q":-2.393},{"x":1.907,"q":-2.393},{"x":1.916,"q":-2.375},{"x":1.925,"q":-2.328},{"x":1.933,"q":-2.300},{"x":1.942,"q":-2.245},{"x":1.951,"q":-2.207},{"x":1.960,"q":-2.170},{"x":1.968,"q":-2.152},{"x":1.977,"q":-2.147},{"x":1.986,"q":-2.156},{"x":1.995,"q":-2.170},{"x":2.004,"q":-2.198},{"x":2.012,"q":-2.217},{"x":2.021,"q":-2.263},{"x":2.030,"q":-2.282},{"x":2.039,"q":-2.245},{"x":2.047,"q":-2.282},{"x":2.056,"q":-2.310},{"x":2.065,"q":-2.300},{"x":2.074,"q":-2.310},{"x":2.082,"q":-2.300},{"x":2.091,"q":-2.347},{"x":2.100,"q":-2.412},{"x":2.109,"q":-2.467},{"x":2.118,"q":-2.449},{"x":2.126,"q":-2.412},{"x":2.135,"q":-2.393},{"x":2.144,"q":-2.375},{"x":2.153,"q":-2.365},{"x":2.161,"q":-2.365},{"x":2.170,"q":-2.356},{"x":2.179,"q":-2.365},{"x":2.188,"q":-2.356},{"x":2.196,"q":-2.365},{"x":2.205,"q":-2.375},{"x":2.214,"q":-2.393},{"x":2.223,"q":-2.440},{"x":2.232,"q":-2.412},{"x":2.240,"q":-2.375},{"x":2.249,"q":-2.365},{"x":2.258,"q":-2.356},{"x":2.267,"q":-2.365},{"x":2.275,"q":-2.328},{"x":2.284,"q":-2.310},{"x":2.293,"q":-2.272},{"x":2.302,"q":-2.319},{"x":2.311,"q":-2.328},{"x":2.319,"q":-2.291},{"x":2.328,"q":-2.207},{"x":2.337,"q":-2.143},{"x":2.346,"q":-2.152},{"x":2.354,"q":-2.147},{"x":2.363,"q":-2.152},{"x":2.372,"q":-2.156},{"x":2.381,"q":-2.152},{"x":2.389,"q":-2.161},{"x":2.398,"q":-2.147},{"x":2.407,"q":-2.161},{"x":2.416,"q":-2.180},{"x":2.425,"q":-2.198},{"x":2.433,"q":-2.226},{"x":2.442,"q":-2.263},{"x":2.451,"q":-2.300},{"x":2.460,"q":-2.328},{"x":2.468,"q":-2.319},{"x":2.477,"q":-2.291},{"x":2.486,"q":-2.263},{"x":2.495,"q":-2.282},{"x":2.504,"q":-2.272},{"x":2.512,"q":-2.282},{"x":2.521,"q":-2.263},{"x":2.530,"q":-2.263},{"x":2.539,"q":-2.263},{"x":2.547,"q":-2.272},{"x":2.556,"q":-2.282},{"x":2.565,"q":-2.300},{"x":2.574,"q":-2.319},{"x":2.582,"q":-2.356},{"x":2.591,"q":-2.319},{"x":2.600,"q":-2.254},{"x":2.609,"q":-2.152},{"x":2.618,"q":-2.077},{"x":2.626,"q":-2.133},{"x":2.635,"q":-2.170},{"x":2.644,"q":-2.198},{"x":2.653,"q":-2.347},{"x":2.661,"q":-2.449},{"x":2.670,"q":-2.532},{"x":2.679,"q":-2.486},{"x":2.688,"q":-2.402},{"x":2.696,"q":-2.412},{"x":2.705,"q":-2.449},{"x":2.714,"q":-2.458},{"x":2.723,"q":-2.421},{"x":2.732,"q":-2.375},{"x":2.740,"q":-2.337},{"x":2.749,"q":-2.384},{"x":2.758,"q":-2.449},{"x":2.767,"q":-2.523},{"x":2.775,"q":-2.560},{"x":2.784,"q":-2.570},{"x":2.793,"q":-2.579},{"x":2.802,"q":-2.570},{"x":2.811,"q":-2.560},{"x":2.819,"q":-2.579},{"x":2.828,"q":-2.597},{"x":2.837,"q":-2.607},{"x":2.846,"q":-2.616},{"x":2.854,"q":-2.625},{"x":2.863,"q":-2.625},{"x":2.872,"q":-2.616},{"x":2.881,"q":-2.625},{"x":2.889,"q":-2.625},{"x":2.898,"q":-2.621},{"x":2.907,"q":-2.597},{"x":2.916,"q":-2.625},{"x":2.925,"q":-2.616},{"x":2.933,"q":-2.505},{"x":2.942,"q":-2.458},{"x":2.951,"q":-2.477},{"x":2.960,"q":-2.458},{"x":2.968,"q":-2.449},{"x":2.977,"q":-2.449},{"x":2.986,"q":-2.430},{"x":2.995,"q":-2.356},{"x":3.004,"q":-2.300},{"x":3.012,"q":-2.282},{"x":3.021,"q":-2.282},{"x":3.030,"q":-2.263},{"x":3.039,"q":-2.217},{"x":3.047,"q":-2.198},{"x":3.056,"q":-2.189},{"x":3.065,"q":-2.207},{"x":3.074,"q":-2.226},{"x":3.082,"q":-2.245},{"x":3.091,"q":-2.249},{"x":3.100,"q":-2.263},{"x":3.109,"q":-2.263},{"x":3.118,"q":-2.254},{"x":3.126,"q":-2.254},{"x":3.135,"q":-2.300},{"x":3.144,"q":-2.467},{"x":3.153,"q":-2.560},{"x":3.161,"q":-2.597},{"x":3.170,"q":-2.579},{"x":3.179,"q":-2.542},{"x":3.188,"q":-2.579},{"x":3.196,"q":-2.616},{"x":3.205,"q":-2.597},{"x":3.214,"q":-2.579},{"x":3.223,"q":-2.597},{"x":3.232,"q":-2.588},{"x":3.240,"q":-2.597},{"x":3.249,"q":-2.579},{"x":3.258,"q":-2.588},{"x":3.267,"q":-2.597},{"x":3.275,"q":-2.560},{"x":3.284,"q":-2.523},{"x":3.293,"q":-2.495},{"x":3.302,"q":-2.514},{"x":3.311,"q":-2.486},{"x":3.319,"q":-2.477},{"x":3.328,"q":-2.477},{"x":3.337,"q":-2.486},{"x":3.346,"q":-2.505},{"x":3.354,"q":-2.523},{"x":3.363,"q":-2.542},{"x":3.372,"q":-2.579},{"x":3.381,"q":-2.616},{"x":3.389,"q":-2.672},{"x":3.398,"q":-2.700},{"x":3.407,"q":-2.737},{"x":3.416,"q":-2.765},{"x":3.425,"q":-2.755},{"x":3.433,"q":-2.690},{"x":3.442,"q":-2.579},{"x":3.451,"q":-2.532},{"x":3.460,"q":-2.542},{"x":3.468,"q":-2.523},{"x":3.477,"q":-2.495},{"x":3.486,"q":-2.477},{"x":3.495,"q":-2.484}
]
},
"spacing": 90,
"bounds": "flush",
"vconcat": [
{
  "title": "Potencia Activa",
  "width": 898, "height": 272,
  "layer": [
    {"data": {"name": "v"}, "mark": {"type": "line", "color": "#1f77b4", "strokeWidth": 2.6, "strokeJoin": "round"},
     "encoding": {
       "x": {"field": "x", "type": "quantitative", "scale": {"domain": [-0.785, 3.70], "nice": false, "zero": false}, "axis": {"title": null, "values": [-0.5,0,0.5,1,1.5,2,2.5,3,3.5], "format": ".1f"}},
       "y": {"field": "v", "type": "quantitative", "scale": {"domain": [67.451, 68.645], "nice": false, "zero": false}, "axis": {"orient": "left", "title": "V", "titleColor": "#1f77b4", "values": [67.6,67.8,68.0,68.2,68.4,68.6], "format": ".1f", "titlePadding": 14}}
     }},
    {"data": {"name": "p"}, "mark": {"type": "line", "color": "#d62728", "strokeWidth": 2.6, "strokeJoin": "round"},
     "encoding": {
       "x": {"field": "x", "type": "quantitative"},
       "y": {"field": "p", "type": "quantitative", "scale": {"domain": [11.047, 12.22], "nice": false, "zero": false}, "axis": {"orient": "right", "title": "P", "titleColor": "#d62728", "titleAngle": 270, "titleBaseline": "top", "values": [11.2,11.4,11.6,11.8,12.0,12.2], "format": ".1f", "titlePadding": 10}}
     }}
  ],
  "resolve": {"scale": {"y": "independent"}}
},
{
  "title": "Potencia Reactiva",
  "width": 898, "height": 272,
  "layer": [
    {"data": {"name": "v"}, "mark": {"type": "line", "color": "#1f77b4", "strokeWidth": 2.6, "strokeJoin": "round"},
     "encoding": {
       "x": {"field": "x", "type": "quantitative", "scale": {"domain": [-0.785, 3.70], "nice": false, "zero": false}, "axis": {"title": null, "values": [-0.5,0,0.5,1,1.5,2,2.5,3,3.5], "format": ".1f"}},
       "y": {"field": "v", "type": "quantitative", "scale": {"domain": [67.451, 68.645], "nice": false, "zero": false}, "axis": {"orient": "left", "title": "V", "titleColor": "#1f77b4", "values": [67.6,67.8,68.0,68.2,68.4,68.6], "format": ".1f", "titlePadding": 14}}
     }},
    {"data": {"name": "q"}, "mark": {"type": "line", "color": "#2ca02c", "strokeWidth": 2.6, "strokeJoin": "round"},
     "encoding": {
       "x": {"field": "x", "type": "quantitative"},
       "y": {"field": "q", "type": "quantitative", "scale": {"domain": [-2.800, -2.043], "nice": false, "zero": false}, "axis": {"orient": "right", "title": "Q", "titleColor": "#2ca02c", "titleAngle": 270, "titleBaseline": "top", "values": [-2.8,-2.6,-2.4,-2.2], "format": ".1f", "titlePadding": 10}}
     }}
  ],
  "resolve": {"scale": {"y": "independent"}}
}
]
}
